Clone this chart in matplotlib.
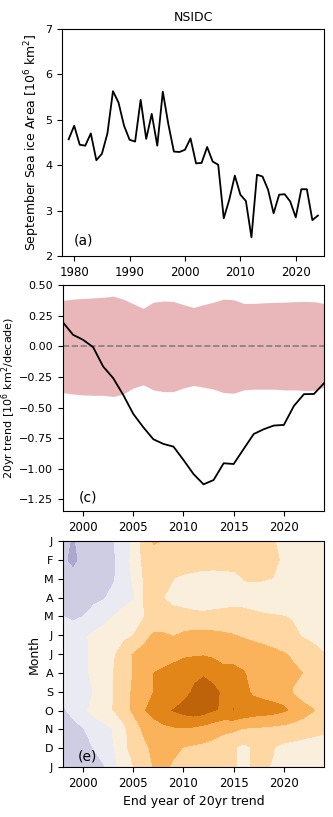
import numpy as np
import matplotlib.pyplot as plt

# (a) September sea ice area, NSIDC
years_a = np.arange(1979, 2025)
sia = [4.57, 4.87, 4.45, 4.43, 4.70, 4.11, 4.25, 4.70, 5.63, 5.38, 4.87, 4.56,
       4.52, 5.44, 4.58, 5.13, 4.43, 5.62, 4.90, 4.30, 4.29, 4.34, 4.59, 4.04,
       4.05, 4.40, 4.08, 4.01, 2.83, 3.24, 3.77, 3.35, 3.21, 2.41, 3.79, 3.75,
       3.46, 2.94, 3.35, 3.36, 3.20, 2.85, 3.47, 3.47, 2.79, 2.89]

# (c) 20yr trend of September area, with spread band
years_c = np.arange(1998, 2025)
trend = [0.195, 0.094, 0.053, -0.007, -0.165, -0.26, -0.397, -0.552, -0.661,
         -0.759, -0.797, -0.819, -0.928, -1.043, -1.127, -1.092, -0.955,
         -0.961, -0.838, -0.716, -0.677, -0.647, -0.642, -0.487, -0.391,
         -0.389, -0.301]
band_hi = [0.375, 0.385, 0.39, 0.395, 0.40, 0.41, 0.385, 0.347, 0.31, 0.36,
           0.37, 0.366, 0.34, 0.317, 0.34, 0.36, 0.385, 0.38, 0.35, 0.35,
           0.355, 0.358, 0.36, 0.364, 0.366, 0.364, 0.35]
band_lo = [-0.378, -0.39, -0.397, -0.40, -0.40, -0.41, -0.39, -0.34, -0.315,
           -0.356, -0.37, -0.37, -0.34, -0.32, -0.334, -0.35, -0.378, -0.383,
           -0.356, -0.35, -0.35, -0.35, -0.356, -0.356, -0.36, -0.36, -0.334]

# (e) 20yr trend for every month (rows Jan..Dec, Jan), columns 1998..2024
month_labels = ['J', 'F', 'M', 'A', 'M', 'J', 'J', 'A', 'S', 'O', 'N', 'D', 'J']
trend_map = np.array([
    [0.45, 0.51, 0.42, 0.38, 0.32, 0.25, 0.10, -0.05, -0.40, -0.53, -0.50, -0.45, -0.42, -0.40,
     -0.38, -0.36, -0.34, -0.32, -0.31, -0.30, -0.28, -0.26, -0.22, -0.19, -0.17, -0.15, -0.14],
    [0.45, 0.55, 0.42, 0.38, 0.32, 0.27, 0.10, -0.08, -0.32, -0.42, -0.43, -0.41, -0.39, -0.37,
     -0.36, -0.35, -0.35, -0.33, -0.32, -0.30, -0.29, -0.27, -0.24, -0.20, -0.16, -0.13, -0.12],
    [0.40, 0.40, 0.38, 0.35, 0.30, 0.26, 0.12, -0.05, -0.28, -0.30, -0.29, -0.26, -0.22, -0.20,
     -0.18, -0.18, -0.19, -0.21, -0.26, -0.27, -0.27, -0.25, -0.20, -0.16, -0.13, -0.12, -0.12],
    [0.35, 0.36, 0.34, 0.30, 0.26, 0.18, 0.08, 0.01, -0.27, -0.32, -0.26, -0.20, -0.18, -0.15,
     -0.14, -0.15, -0.17, -0.20, -0.20, -0.18, -0.15, -0.13, -0.12, -0.12, -0.11, -0.10, -0.10],
    [0.24, 0.28, 0.24, 0.15, 0.07, -0.02, -0.10, -0.17, -0.25, -0.30, -0.33, -0.33, -0.32, -0.31,
     -0.30, -0.32, -0.32, -0.31, -0.30, -0.29, -0.28, -0.27, -0.26, -0.24, -0.20, -0.18, -0.16],
    [0.15, 0.10, 0.03, -0.05, -0.10, -0.15, -0.20, -0.26, -0.42, -0.55, -0.54, -0.50, -0.56, -0.58,
     -0.58, -0.57, -0.55, -0.52, -0.48, -0.45, -0.42, -0.38, -0.33, -0.28, -0.24, -0.22, -0.20],
    [0.15, 0.10, 0.04, -0.05, -0.14, -0.23, -0.40, -0.53, -0.60, -0.62, -0.65, -0.68, -0.72, -0.73,
     -0.74, -0.72, -0.70, -0.68, -0.66, -0.63, -0.60, -0.57, -0.53, -0.47, -0.37, -0.30, -0.26],
    [0.15, 0.10, 0.04, -0.05, -0.15, -0.26, -0.40, -0.52, -0.65, -0.76, -0.80, -0.85, -0.90, -0.95,
     -0.98, -0.90, -0.80, -0.82, -0.77, -0.70, -0.66, -0.63, -0.60, -0.55, -0.50, -0.45, -0.40],
    trend,
    [0.27, 0.15, 0.05, -0.10, -0.18, -0.26, -0.42, -0.55, -0.74, -0.85, -0.95, -1.03, -1.10, -1.15,
     -1.12, -1.03, -0.97, -1.01, -0.95, -0.90, -0.88, -0.85, -0.80, -0.72, -0.60, -0.52, -0.40],
    [0.40, 0.33, 0.25, 0.15, 0.07, -0.02, -0.20, -0.40, -0.55, -0.65, -0.70, -0.73, -0.74, -0.72,
     -0.68, -0.62, -0.57, -0.55, -0.50, -0.48, -0.47, -0.45, -0.43, -0.40, -0.38, -0.35, -0.32],
    [0.45, 0.40, 0.32, 0.24, 0.12, 0.00, -0.20, -0.35, -0.45, -0.56, -0.58, -0.55, -0.50, -0.47,
     -0.45, -0.42, -0.36, -0.28, -0.20, -0.28, -0.28, -0.26, -0.20, -0.18, -0.15, -0.12, -0.10],
    [0.48, 0.45, 0.38, 0.32, 0.26, 0.05, -0.12, -0.26, -0.40, -0.52, -0.55, -0.48, -0.44, -0.42,
     -0.40, -0.38, -0.33, -0.27, -0.22, -0.27, -0.27, -0.24, -0.20, -0.18, -0.16, -0.14, -0.12],
])

plt.rcParams['font.size'] = 9
plt.rcParams['xtick.labelsize'] = 8.5
plt.rcParams['ytick.labelsize'] = 8
fig = plt.figure(figsize=(3.33, 8.17), dpi=100)

# (a)
ax1 = fig.add_axes([0.1862, 0.6867, 0.7868, 0.2778])
ax1.plot(years_a, sia, 'k-', lw=1.3)
ax1.set_xlim(1977.8, 2025.1)
ax1.set_ylim(2, 7)
ax1.set_xticks([1980, 1990, 2000, 2010, 2020])
ax1.set_ylabel('September Sea ice Area [10$^6$ km$^2$]')
ax1.yaxis.set_label_coords(-0.075, 0.5)
ax1.set_title('NSIDC', fontsize=9)
ax1.text(0.046, 0.05, '(a)', transform=ax1.transAxes, fontsize=10)

# (c)
ax2 = fig.add_axes([0.1892, 0.3745, 0.7838, 0.2766])
ax2.fill_between(years_c, band_lo, band_hi, color='#e9b6b9', lw=0)
ax2.axhline(0, color='gray', ls='--', lw=1.2)
ax2.plot(years_c, trend, 'k-', lw=1.3)
ax2.set_xlim(1998, 2024)
ax2.set_ylim(-1.345, 0.5)
ax2.set_yticks([0.5, 0.25, 0, -0.25, -0.5, -0.75, -1.0, -1.25])
ax2.set_xticks([2000, 2005, 2010, 2015, 2020])
ax2.set_ylabel('20yr trend [10$^6$ km$^2$/decade)', fontsize=8)
ax2.yaxis.set_label_coords(-0.172, 0.5)
ax2.text(0.061, 0.04, '(c)', transform=ax2.transAxes, fontsize=10)

# (e)
ax3 = fig.add_axes([0.1892, 0.0612, 0.7838, 0.2766])
months = np.arange(1, 14)
ax3.contourf(years_c, months, trend_map, levels=np.arange(-1.5, 1.51, 0.25),
             cmap='PuOr')
ax3.set_xlim(1998, 2024)
ax3.set_ylim(13, 1)
ax3.set_yticks(months)
ax3.set_yticklabels(month_labels)
ax3.set_xticks([2000, 2005, 2010, 2015, 2020])
ax3.set_xlabel('End year of 20yr trend')
ax3.set_ylabel('Month')
ax3.yaxis.set_label_coords(-0.085, 0.5)
ax3.text(0.057, 0.03, '(e)', transform=ax3.transAxes, fontsize=10)

fig.savefig('out.png', dpi=100)
